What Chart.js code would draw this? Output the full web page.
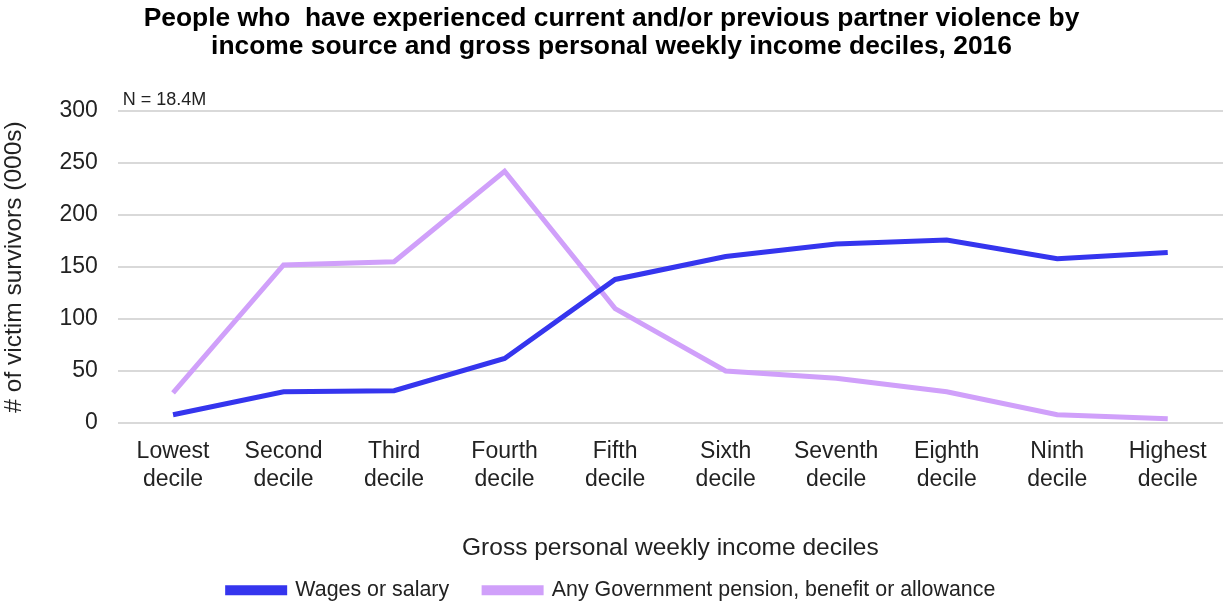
<!DOCTYPE html>
<html lang="en">
<head>
    <meta charset="UTF-8">
    <title>Partner violence by income decile</title>
    <script src="https://cdn.jsdelivr.net/npm/chart.js"></script>
    <style>
        body {
            margin: 0;
            background: #fff;
            font-family: "Liberation Sans", Arial, sans-serif;
        }
        #wrap {
            width: 1227px;
            height: 602px;
        }
    </style>
</head>
<body>
    <div id="wrap"><canvas id="myChart"></canvas></div>

    <script>
        // Income deciles (two-line labels)
        const deciles = [
            ['Lowest', 'decile'], ['Second', 'decile'], ['Third', 'decile'],
            ['Fourth', 'decile'], ['Fifth', 'decile'], ['Sixth', 'decile'],
            ['Seventh', 'decile'], ['Eighth', 'decile'], ['Ninth', 'decile'],
            ['Highest', 'decile']
        ];
        // Victim survivors, thousands
        const wages = [8, 30, 31, 62, 138, 160, 172, 176, 158, 164];
        const pension = [29, 152, 155, 242, 110, 50, 43, 30, 8, 4];
        const sampleNote = 'N = 18.4M';

        const FONT = '"Liberation Sans", Arial, sans-serif';

        // small note in the top-left corner of the plot
        const notePlugin = {
            id: 'note',
            afterDraw(chart) {
                const { ctx, chartArea } = chart;
                ctx.save();
                ctx.font = '18px ' + FONT;
                ctx.fillStyle = '#222';
                ctx.textBaseline = 'alphabetic';
                ctx.fillText(sampleNote, chartArea.left + 5, chartArea.top - 6);
                ctx.restore();
            }
        };

        const ctx = document.getElementById('myChart').getContext('2d');
        new Chart(ctx, {
            type: 'line',
            data: {
                labels: deciles,
                datasets: [
                    {
                        label: 'Wages or salary',
                        data: wages,
                        borderColor: '#3535EE',
                        backgroundColor: '#3535EE',
                        borderWidth: 5,
                        pointRadius: 0,
                        tension: 0
                    },
                    {
                        label: 'Any Government pension, benefit or allowance',
                        data: pension,
                        borderColor: '#D0A0FA',
                        backgroundColor: '#D0A0FA',
                        borderWidth: 5,
                        pointRadius: 0,
                        tension: 0
                    }
                ]
            },
            options: {
                responsive: true,
                maintainAspectRatio: false,
                animation: false,
                layout: { padding: { top: 5, right: 4, left: 0, bottom: -9 } },
                plugins: {
                    title: {
                        display: true,
                        text: ['People who  have experienced current and/or previous partner violence by',
                               'income source and gross personal weekly income deciles, 2016'],
                        color: '#000',
                        font: { family: FONT, size: 26.4, weight: 'bold', lineHeight: 1.06 },
                        padding: { top: 0, bottom: 50 }
                    },
                    legend: {
                        position: 'bottom',
                        labels: {
                            color: '#222',
                            font: { family: FONT, size: 21.4 },
                            boxWidth: 57,
                            boxHeight: 5,
                            padding: 35
                        }
                    },
                    tooltip: { enabled: false }
                },
                scales: {
                    x: {
                        offset: true,
                        grid: { display: false, drawTicks: false },
                        border: { display: false },
                        ticks: {
                            color: '#222',
                            font: { family: FONT, size: 23 },
                            padding: 15,
                            maxRotation: 0,
                            autoSkip: false
                        },
                        title: {
                            display: true,
                            text: 'Gross personal weekly income deciles',
                            color: '#222',
                            font: { family: FONT, size: 24.5 },
                            padding: { top: 25, bottom: -18 }
                        }
                    },
                    y: {
                        min: 0,
                        max: 300,
                        grid: { color: '#d9d9d9', lineWidth: 2, drawTicks: false },
                        border: { display: false },
                        ticks: {
                            stepSize: 50,
                            color: '#222',
                            font: { family: FONT, size: 23 },
                            padding: 20
                        },
                        title: {
                            display: true,
                            text: '# of victim survivors (000s)',
                            color: '#222',
                            font: { family: FONT, size: 24.5 },
                            padding: { top: 0, bottom: 10 }
                        }
                    }
                }
            },
            plugins: [notePlugin]
        });
    </script>
</body>
</html>
